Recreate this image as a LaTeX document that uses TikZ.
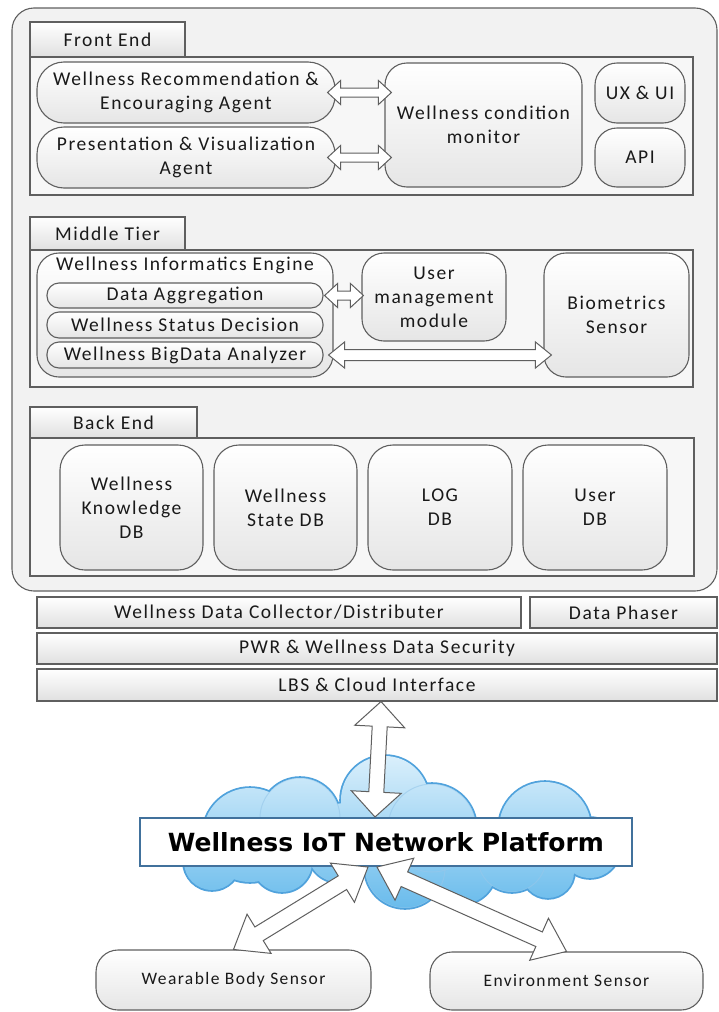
\documentclass[tikz,border=0pt]{standalone}
\usepackage{fontspec}
\setmainfont{Carlito}[LetterSpace=8]
\newfontfamily\platfont{DejaVu Sans}
\usetikzlibrary{calc}

\definecolor{edgegray}{RGB}{95,95,95}
\definecolor{cloudtop}{RGB}{222,241,252}
\definecolor{cloudbot}{RGB}{100,185,235}
\definecolor{cloudrim}{RGB}{80,162,220}
\definecolor{platblue}{RGB}{65,113,156}

\tikzset{
  every node/.style={font=\fontsize{19.5}{24}\selectfont, text=black!90, align=center, inner sep=0pt},
  frame/.style={draw=edgegray, line width=1.1pt, fill=black!5, rounded corners=22pt},
  layer/.style={draw=edgegray, line width=1.1pt, fill=black!3},
  tabbox/.style={draw=edgegray, line width=1.1pt, top color=white, bottom color=black!12},
  unit/.style={draw=edgegray, line width=1.1pt, rounded corners=22pt, top color=white, bottom color=black!10},
  pill/.style={unit, rounded corners=12pt},
  bigarrow/.style={draw=edgegray, line width=1pt, fill=white, line join=miter},
}

% hollow double-headed arrow: from, to, shaft half width, head half width, head length
\newcommand{\fatarrow}[5]{%
  \coordinate (fa1) at ($(#1)!#5!(#2)$);
  \coordinate (fa2) at ($(#2)!#5!(#1)$);
  \draw[bigarrow] (#1) -- ($(fa1)!#4!90:(#2)$) -- ($(fa1)!#3!90:(#2)$)
    -- ($(fa2)!#3!-90:(#1)$) -- ($(fa2)!#4!-90:(#1)$) -- (#2)
    -- ($(fa2)!#4!90:(#1)$) -- ($(fa2)!#3!90:(#1)$)
    -- ($(fa1)!#3!-90:(#2)$) -- ($(fa1)!#4!-90:(#2)$) -- cycle;
}

\begin{document}
\begin{tikzpicture}[x=1pt, y=-1pt]
\useasboundingbox (0,0) rectangle (718,1012);

\draw[frame] (12,8) rectangle (717,591);

% front end
\node[layer, minimum width=663, minimum height=138] (front) at (361.5,126) {};
\node[tabbox, minimum width=155, minimum height=35] (fronttab) at (107.5,39.5) {Front End};
\node[unit, rounded corners=27pt, minimum width=298, minimum height=61] (agentA) at (186,92.5) {Wellness Recommendation \&\\Encouraging Agent};
\node[unit, rounded corners=27pt, minimum width=298, minimum height=61] (agentB) at (186,157.5) {Presentation \& Visualization\\Agent};
\node[unit, minimum width=197, minimum height=124] (monitor) at (483.5,125) {Wellness condition\\monitor};
\node[unit, minimum width=90, minimum height=60] (uxui) at (640,93) {UX \& UI};
\node[unit, minimum width=90, minimum height=59] (api) at (640,157.5) {API};

% middle tier
\node[layer, minimum width=663, minimum height=137] (middle) at (361.5,318.5) {};
\node[tabbox, minimum width=155, minimum height=33] (middletab) at (107.5,233.5) {Middle Tier};
\node[unit, minimum width=296, minimum height=124,
  label={[anchor=north, yshift=-4pt]north:Wellness Informatics Engine}] (engine) at (185,315) {};
\node[pill, minimum width=276, minimum height=25] (aggr) at (185,295.5) {Data Aggregation};
\node[pill, minimum width=276, minimum height=26] (status) at (185,325) {Wellness Status Decision};
\node[pill, minimum width=276, minimum height=26] (bigdata) at (185,355) {Wellness BigData Analyzer};
\node[unit, minimum width=144, minimum height=88] (usermgmt) at (434,297) {User\\management\\module};
\node[unit, minimum width=145, minimum height=124] (bio) at (616.5,315) {Biometrics\\Sensor};

% back end
\node[layer, minimum width=664, minimum height=138] (back) at (362,507) {};
\node[tabbox, minimum width=167, minimum height=31] (backtab) at (113.5,422.5) {Back End};
\node[unit, rounded corners=25pt, minimum width=143, minimum height=125] (kdb) at (131.5,507.5) {Wellness\\Knowledge\\DB};
\node[unit, rounded corners=25pt, minimum width=143, minimum height=125] (sdb) at (285.5,507.5) {Wellness\\State DB};
\node[unit, rounded corners=25pt, minimum width=144, minimum height=125] (logdb) at (440,507.5) {LOG\\DB};
\node[unit, rounded corners=25pt, minimum width=144, minimum height=125] (udb) at (595,507.5) {User\\DB};

% arrows inside the tiers
\coordinate (recL) at ([xshift=-8pt]agentA.east);
\coordinate (recM) at (agentA.east -| monitor.west);
\coordinate (recR) at ([xshift=7pt]recM);
\coordinate (preL) at ([xshift=-8pt]agentB.east);
\coordinate (preM) at (agentB.east -| monitor.west);
\coordinate (preR) at ([xshift=7pt]preM);
\coordinate (aggL) at ([xshift=1pt]aggr.east);
\coordinate (aggM) at (aggr.east -| usermgmt.west);
\coordinate (aggR) at ([xshift=2pt]aggM);
\coordinate (bigL) at ([xshift=5pt]bigdata.east);
\coordinate (bigM) at (bigdata.east -| bio.west);
\coordinate (bigR) at ([xshift=8pt]bigM);
\fatarrow{recL}{recR}{4.5pt}{12pt}{13pt}
\fatarrow{preL}{preR}{4.5pt}{12pt}{13pt}
\fatarrow{aggL}{aggR}{4.5pt}{12pt}{13pt}
\fatarrow{bigL}{bigR}{5.5pt}{13pt}{16pt}

% layers below
\node[tabbox, minimum width=484, minimum height=31] (collector) at (279,612.5) {Wellness Data Collector/Distributer};
\node[tabbox, minimum width=187, minimum height=31] (phaser) at (623.5,612.5) {Data Phaser};
\node[tabbox, minimum width=680, minimum height=31] (pwr) at (377,648.5) {PWR \& Wellness Data Security};
\node[tabbox, minimum width=680, minimum height=32] (lbs) at (377,685) {LBS \& Cloud Interface};

% cloud
\foreach \cx/\cy/\r in {250/835/47, 212/862/28, 300/818/40, 282/862/30, 338/852/30,
  385/800/44, 345/835/32, 432/828/44, 405/868/40, 462/870/34,
  545/828/46, 590/848/30, 512/858/34, 548/872/26}
  \fill[cloudrim] (\cx,\cy) circle[radius=\r+1.8];
\begin{scope}
  \clip foreach \cx/\cy/\r in {250/835/47, 212/862/28, 300/818/40, 282/862/30, 338/852/30,
    385/800/44, 345/835/32, 432/828/44, 405/868/40, 462/870/34,
    545/828/46, 590/848/30, 512/858/34, 548/872/26} { (\cx,\cy) circle[radius=\r] };
  \shade[top color=cloudtop, bottom color=cloudbot] (180,750) rectangle (640,915);
  \foreach \cx/\cy/\r in {300/818/40, 432/828/44, 405/868/40, 338/852/30, 512/858/34}
    \draw[cloudrim!60, line width=1pt, opacity=0.6] (\cx,\cy) circle[radius=\r];
\end{scope}

\node[draw=platblue, line width=2pt, fill=white, minimum width=492, minimum height=48,
  font=\platfont\bfseries\fontsize{25}{30}\selectfont, text=black] (platform) at (386,842) {Wellness IoT Network Platform};

\node[unit, font=\fontsize{17.5}{21}\selectfont, minimum width=275, minimum height=60] (wearable) at (233.5,980) {Wearable Body Sensor};
\node[unit, font=\fontsize{17.5}{21}\selectfont, minimum width=273, minimum height=58] (env) at (566.5,981) {Environment Sensor};

% arrows to the network platform
\coordinate (upT) at ([xshift=4pt]lbs.south);
\coordinate (upB) at ([xshift=-11pt]platform.north);
\coordinate (plL) at ([xshift=-18pt]platform.south);
\coordinate (plR) at ([xshift=-9pt]platform.south);
\fatarrow{upT}{upB}{7.5pt}{25pt}{25pt}
\fatarrow{plL}{wearable.north}{8pt}{23pt}{30pt}
\fatarrow{plR}{env.north}{8pt}{23pt}{30pt}
\end{tikzpicture}
\end{document}
